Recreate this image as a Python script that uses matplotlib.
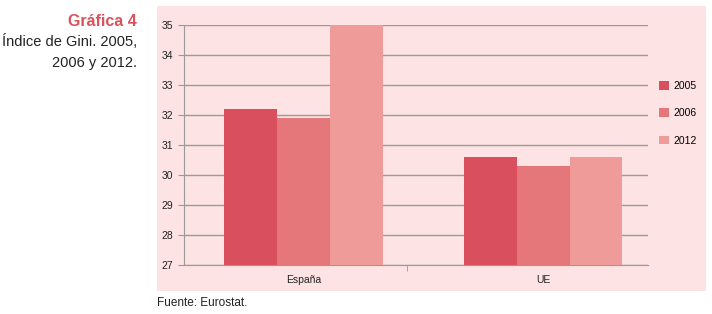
import matplotlib
matplotlib.use("Agg")
import matplotlib.pyplot as plt
from matplotlib.patches import Rectangle
import numpy as np

categories = ["España", "UE"]
years = ["2005", "2006", "2012"]
values_2005 = [32.2, 30.6]
values_2006 = [31.9, 30.3]
values_2012 = [35.0, 30.6]
yticks = [27, 28, 29, 30, 31, 32, 33, 34, 35]

colors = ["#DA4F5E", "#E5777A", "#EF9B9A"]
bg = "#FDE3E3"

plt.rcParams['font.family'] = ['Liberation Sans', 'DejaVu Sans']

W, H = 712, 314
fig = plt.figure(figsize=(W / 100, H / 100), dpi=100)
fig.patch.set_facecolor("white")

# pink panel
fig.patches.append(Rectangle((157 / W, 1 - 291 / H), (706 - 157) / W, (291 - 6) / H,
                             transform=fig.transFigure, facecolor=bg, edgecolor="none", zorder=-5))

ax_left, ax_right = 184, 648
ax_top, ax_bottom = 25, 265
ax = fig.add_axes([ax_left / W, 1 - ax_bottom / H, (ax_right - ax_left) / W, (ax_bottom - ax_top) / H])
ax.set_facecolor("none")
ax.set_zorder(2)

x = np.arange(len(categories))
bw = 0.221
for i, (vals, lab) in enumerate(zip([values_2005, values_2006, values_2012], years)):
    ax.bar(x + (i - 1) * bw, np.array(vals) - 27, bottom=27, width=bw, color=colors[i],
           label=lab, zorder=3, linewidth=0)

ax.set_ylim(27, 35)
ax.set_xlim(-0.499, 1.438)
ax.set_yticks(yticks)
ax.set_yticklabels([str(t) for t in yticks], fontsize=7.5, color="#222222")
ax.yaxis.grid(True, color="#9a9a9a", linewidth=1.0, zorder=1)
ax.set_axisbelow(True)
ax.set_xticks(x)
ax.set_xticklabels(categories, fontsize=7.5, color="#222222")
ax.set_xticks([0.432], minor=True)
ax.tick_params(axis="x", which="major", length=0, pad=7)
ax.tick_params(axis="x", which="minor", length=4, color="#9a9a9a", direction="out")
ax.tick_params(axis="y", length=4, color="#9a9a9a", pad=4)
for s in ["top", "right"]:
    ax.spines[s].set_visible(False)
ax.spines["left"].set_color("#9a9a9a")
ax.spines["bottom"].set_color("#9a9a9a")

# legend
handles, labels = ax.get_legend_handles_labels()
leg = fig.legend(handles, labels, loc="upper left", bbox_to_anchor=(655 / W, 1 - 77 / H),
                 frameon=False, fontsize=7.5, handlelength=0.9, handleheight=0.9,
                 handletextpad=0.5, labelspacing=1.65, borderaxespad=0)

# titles
fig.text(137 / W, 1 - 21 / H, "Gráfica 4", ha="right", va="center", fontsize=11.5,
         fontweight="bold", color="#D9535F")
fig.text(137 / W, 1 - 42 / H, "Índice de Gini. 2005,", ha="right", va="center", fontsize=10.5,
         color="#222222")
fig.text(137 / W, 1 - 63 / H, "2006 y 2012.", ha="right", va="center", fontsize=10.5,
         color="#222222")
fig.text(157 / W, 1 - 303 / H, "Fuente: Eurostat.", ha="left", va="center", fontsize=8.5,
         color="#222222")

fig.savefig("out.png", dpi=100)
